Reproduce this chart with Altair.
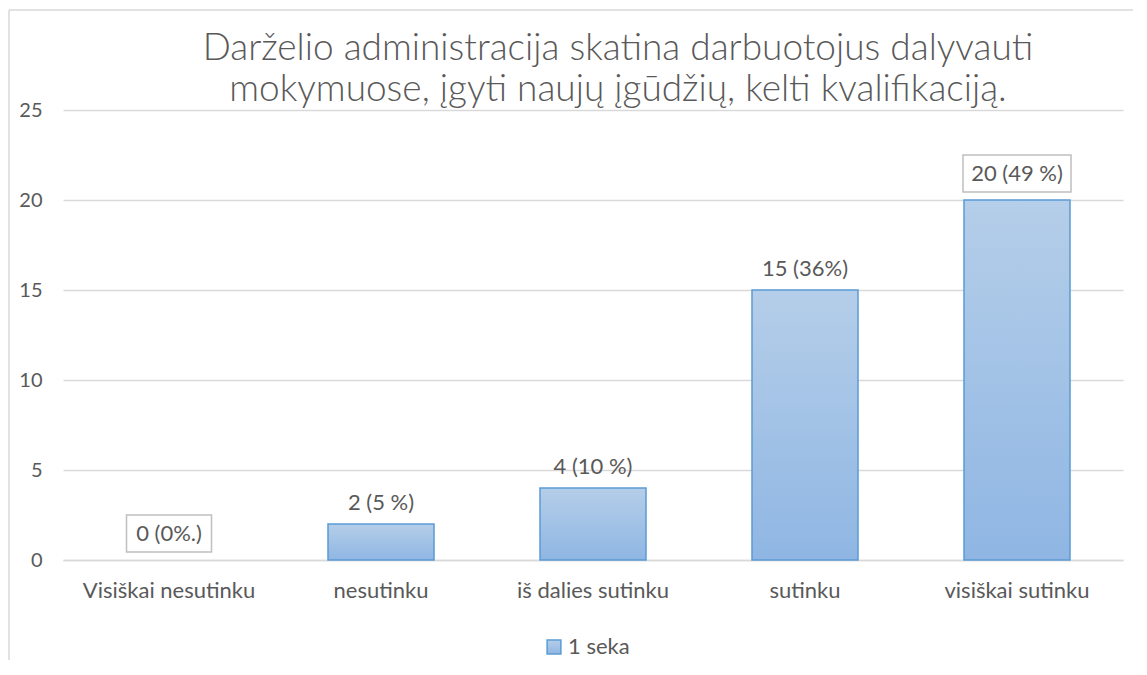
import altair as alt
import pandas as pd

categories = ["Visiškai nesutinku", "nesutinku", "iš dalies sutinku", "sutinku", "visiškai sutinku"]
values = [0, 2, 4, 15, 20]
labels = ["0 (0%.)", "2 (5 %)", "4 (10 %)", "15 (36%)", "20 (49 %)"]
boxed = [True, False, False, False, True]
series_name = "1 seka"
title_lines = ["Darželio administracija skatina darbuotojus dalyvauti",
               "mokymuose, įgyti naujų įgūdžių, kelti kvalifikaciją."]
y_ticks = [0, 5, 10, 15, 20, 25]

df = pd.DataFrame({"cat": categories, "value": values, "label": labels, "boxed": boxed,
                   "series": [series_name] * len(categories)})

W, H = 1060, 450
FONT = "Lato"
GRAY = "#595959"
FS = 22

x_enc = alt.X("cat:N", sort=categories, title=None,
              scale=alt.Scale(paddingInner=0.5, paddingOuter=0.25),
              axis=alt.Axis(labelAngle=0, labelFontSize=FS, labelColor=GRAY, labelFont=FONT,
                            ticks=False, domainColor="#d9d9d9", domainWidth=1.5,
                            labelPadding=20, grid=False))
y_enc = alt.Y("value:Q", title=None,
              scale=alt.Scale(domain=[0, 25], nice=False),
              axis=alt.Axis(values=y_ticks, labelFontSize=20, labelColor=GRAY, labelFont=FONT,
                            ticks=False, domain=False, gridColor="#d9d9d9", gridWidth=1.5,
                            labelPadding=21))

grad = alt.Gradient(gradient="linear",
                    stops=[alt.GradientStop(color="#b5cee9", offset=0),
                           alt.GradientStop(color="#8fb6e3", offset=1)],
                    x1=0, x2=0, y1=0, y2=1)

base = alt.Chart(df)

bars = base.transform_filter("datum.value > 0").mark_bar(fill=grad, strokeWidth=1.5).encode(
    x=x_enc, y=y_enc,
    stroke=alt.Stroke("series:N", scale=alt.Scale(range=["#5b9bd5"]),
                      legend=alt.Legend(title=None, orient="none", legendX=480, legendY=526,
                                        symbolType="square", symbolSize=190,
                                        symbolFillColor="#a3c2e7", symbolStrokeWidth=1.5,
                                        labelFontSize=FS, labelColor=GRAY, labelFont=FONT,
                                        labelOffset=3))
)

plain_text = base.transform_filter("!datum.boxed").mark_text(
    dy=-21, fontSize=FS, color=GRAY, font=FONT, baseline="middle").encode(
    x=alt.X("cat:N", sort=categories), y="value:Q", text="label:N")

box0 = base.transform_filter(alt.datum.cat == categories[0]).mark_bar(
    width=85, fill="white", stroke="#bfbfbf", strokeWidth=1.5, yOffset=-45, y2Offset=-8).encode(
    x=alt.X("cat:N", sort=categories), y="value:Q", y2="value:Q")
box4 = base.transform_filter(alt.datum.cat == categories[4]).mark_bar(
    width=108, fill="white", stroke="#bfbfbf", strokeWidth=1.5, yOffset=-45, y2Offset=-8).encode(
    x=alt.X("cat:N", sort=categories), y="value:Q", y2="value:Q")

boxed_text = base.transform_filter("datum.boxed").mark_text(
    dy=-26, fontSize=FS, color=GRAY, font=FONT, baseline="middle").encode(
    x=alt.X("cat:N", sort=categories), y="value:Q", text="label:N")

border_top = alt.Chart(pd.DataFrame({"k": [0]})).mark_rule(color="#d9d9d9", strokeWidth=1.5).encode(
    x=alt.value(-54), x2=alt.value(W + 20), y=alt.value(-100))
border_left = alt.Chart(pd.DataFrame({"k": [0]})).mark_rule(color="#d9d9d9", strokeWidth=1.5).encode(
    x=alt.value(-54), y=alt.value(-100), y2=alt.value(H + 110))

chart = alt.layer(border_top, border_left, bars, plain_text, box0, box4, boxed_text).properties(
    width=W, height=H,
    autosize=alt.AutoSizeParams(type="none"),
    padding={"left": 55, "top": 102, "right": 10, "bottom": 100},
    title=alt.TitleParams(text=title_lines, fontSize=37, font=FONT, color=GRAY,
                          fontWeight=300, lineHeight=41, anchor="middle",
                          offset=-100, dx=25)
).configure_view(stroke=None)

chart.save("out.html", embed_options={"renderer": "svg", "actions": False})
